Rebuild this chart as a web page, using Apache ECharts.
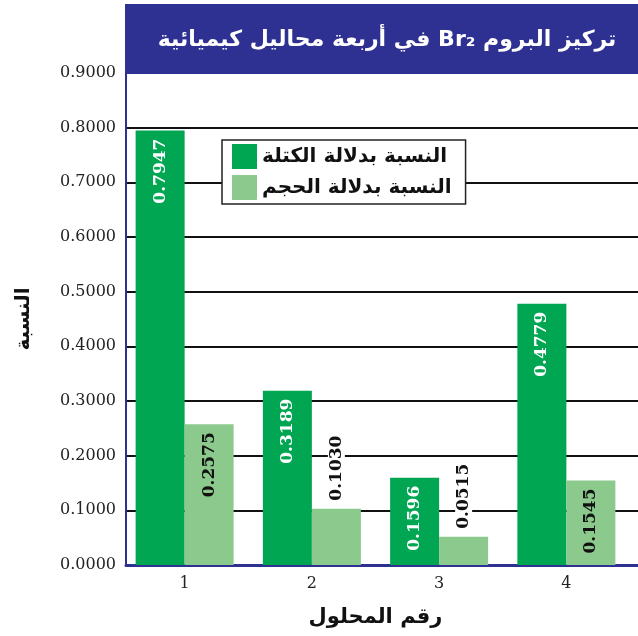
<!DOCTYPE html>
<html>
<head>
<meta charset="utf-8">
<script src="https://cdn.jsdelivr.net/npm/echarts@6/dist/echarts.min.js"></script>
<style>
  html, body { margin: 0; padding: 0; background: #fff; }
  #main { width: 638px; height: 636px; }
</style>
</head>
<body>
<div id="main"></div>
<script>
// 数据
const categories = ['1', '2', '3', '4']
const massRatio = [0.7947, 0.3189, 0.1596, 0.4779]
const volumeRatio = [0.2575, 0.1030, 0.0515, 0.1545]
const seriesNames = ['النسبة بدلالة الكتلة', 'النسبة بدلالة الحجم']

const titleText = '\u202Bتركيز البروم Br₂ في أربعة محاليل كيميائية\u202C'
const arabicFont = '"DejaVu Sans", sans-serif'
const numFont = '"DejaVu Serif", "Liberation Serif", serif'
const blue = '#2e3192'
const dark = '#00a651'
const light = '#8bca8c'

const chart = echarts.init(document.getElementById('main'))

// 柱内标签（旋转 90 度）
const insideLabel = color => ({
  show: true,
  position: 'insideTop',
  distance: 8,
  rotate: 90,
  align: 'right',
  verticalAlign: 'middle',
  color: color,
  fontFamily: numFont,
  fontWeight: 'bold',
  fontSize: 17,
  formatter: p => p.value.toFixed(4)
})

// 柱太矮时标签放在柱上方
const outsideLabel = {
  position: 'top',
  align: 'left',
  distance: 8,
  backgroundColor: '#fff'
}

const options = {
  animation: false,
  title: {
    text: titleText,
    left: 382,
    top: 24,
    textAlign: 'center',
    z: 8,
    textStyle: {
      color: '#fff',
      fontFamily: arabicFont,
      fontWeight: 'bold',
      fontSize: 22
    }
  },
  // 标题背景条
  graphic: [
    {
      type: 'rect',
      z: 5,
      shape: { x: 125, y: 4, width: 513, height: 70 },
      style: { fill: blue }
    }
  ],
  legend: {
    orient: 'vertical',
    left: 222,
    top: 140,
    icon: 'rect',
    itemWidth: 25,
    itemHeight: 25,
    itemGap: 6,
    padding: [4, 14, 4, 10],
    backgroundColor: '#fff',
    borderColor: '#222',
    borderWidth: 1.5,
    textStyle: {
      color: '#111',
      fontFamily: arabicFont,
      fontWeight: 'bold',
      fontSize: 20
    },
    data: seriesNames
  },
  // 两个网格：0 画坐标轴和网格线，1 放柱子
  grid: [
    { left: 126, right: 0, top: 73, bottom: 71 },
    { left: 121, right: 8, top: 73, bottom: 71 }
  ],
  xAxis: [
    {
      gridIndex: 0,
      type: 'value',
      min: 0,
      max: 1,
      axisLine: { show: true, lineStyle: { color: blue, width: 3 } },
      axisTick: { show: false },
      axisLabel: { show: false },
      splitLine: { show: false }
    },
    {
      gridIndex: 1,
      type: 'category',
      data: categories,
      axisLine: { show: false },
      axisTick: { show: false },
      axisLabel: {
        margin: 11,
        color: '#222',
        fontFamily: numFont,
        fontSize: 16
      },
      name: 'رقم المحلول',
      nameLocation: 'middle',
      nameGap: 42,
      nameTextStyle: {
        color: '#111',
        fontFamily: arabicFont,
        fontWeight: 'bold',
        fontSize: 21
      }
    }
  ],
  yAxis: [
    {
      gridIndex: 0,
      type: 'value',
      min: 0,
      max: 0.9,
      interval: 0.1,
      axisLine: { show: true, lineStyle: { color: blue, width: 2 } },
      axisTick: { show: false },
      axisLabel: {
        margin: 10,
        color: '#222',
        fontFamily: numFont,
        fontSize: 16,
        formatter: v => v.toFixed(4)
      },
      splitLine: { show: true, lineStyle: { color: '#111', width: 2 } },
      name: 'النسبة',
      nameLocation: 'middle',
      nameGap: 92,
      nameTextStyle: {
        color: '#111',
        fontFamily: arabicFont,
        fontWeight: 'bold',
        fontSize: 20
      }
    },
    {
      gridIndex: 1,
      type: 'value',
      min: 0,
      max: 0.9,
      show: false
    }
  ],
  series: [
    {
      name: seriesNames[0],
      type: 'bar',
      xAxisIndex: 1,
      yAxisIndex: 1,
      barWidth: 49,
      barGap: '0%',
      itemStyle: { color: dark },
      label: insideLabel('#fff'),
      data: massRatio
    },
    {
      name: seriesNames[1],
      type: 'bar',
      xAxisIndex: 1,
      yAxisIndex: 1,
      barWidth: 49,
      barGap: '0%',
      itemStyle: { color: light },
      label: insideLabel('#111'),
      data: volumeRatio.map(v => (v < 0.12 ? { value: v, label: outsideLabel } : v))
    }
  ]
}

chart.setOption(options)
</script>
</body>
</html>
